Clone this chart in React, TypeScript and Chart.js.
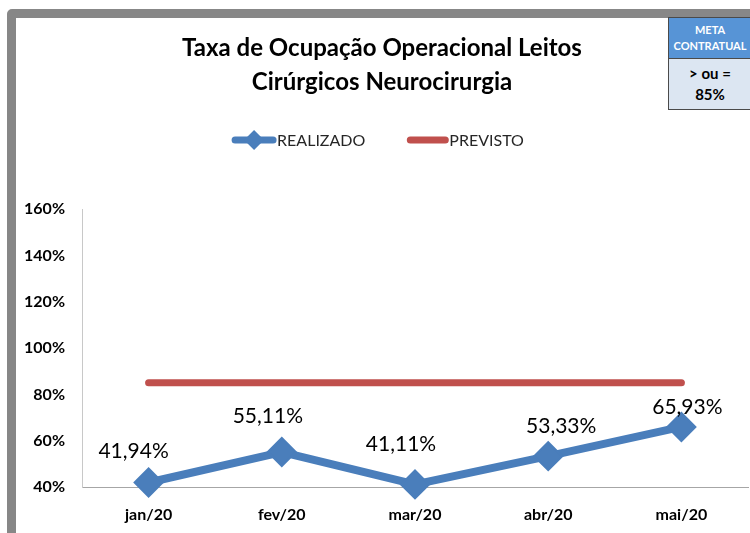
import React, { useEffect, useRef } from "react";
import { Chart, registerables } from "chart.js";

Chart.register(...registerables);

const categories = ["jan/20", "fev/20", "mar/20", "abr/20", "mai/20"];
const realizado = [41.94, 55.11, 41.11, 53.33, 65.93];
const previsto = [85, 85, 85, 85, 85];
const seriesNames = ["REALIZADO", "PREVISTO"];
const yMin = 40;
const yMax = 160;
const yStep = 20;
const titleLines = ["Taxa de Ocupação Operacional Leitos", "Cirúrgicos Neurocirurgia"];
const metaHeader = ["META", "CONTRATUAL"];
const metaValue = ["> ou =", "85%"];

// label nudges relative to each point (placement style, not data)
const labelNudgeX = [-15, -14, -14, 13, 6];
const labelNudgeY = [-31, -36, -40, -30, -20];

const BLUE = "#4a7ebb";
const RED = "#c0504d";
const FONT = "Lato, 'Open Sans', sans-serif";

const fmt = (v: number) => v.toFixed(2).replace(".", ",") + "%";

const dataLabelsPlugin = {
  id: "dataLabels",
  afterDatasetsDraw(chart: any) {
    const ctx = chart.ctx;
    const meta = chart.getDatasetMeta(0);
    const ds = chart.data.datasets[0];
    ctx.save();
    ctx.font = `21px ${FONT}`;
    ctx.fillStyle = "#000";
    ctx.textAlign = "center";
    ctx.textBaseline = "middle";
    meta.data.forEach((pt: any, i: number) => {
      ctx.fillText(fmt(ds.data[i]), pt.x + labelNudgeX[i], pt.y + labelNudgeY[i]);
    });
    ctx.restore();
  },
};

const customLegendPlugin = {
  id: "customLegend",
  afterDraw(chart: any) {
    const ctx = chart.ctx;
    const y = 140;
    ctx.save();
    ctx.font = `16px ${FONT}`;
    const w0 = ctx.measureText(chart.data.datasets[0].label).width;
    const w1 = ctx.measureText(chart.data.datasets[1].label).width;
    const icon0 = 44;
    const icon1 = 41;
    const gapText = 1;
    const gapItem = 42;
    const total = icon0 + gapText + w0 + gapItem + icon1 + gapText + w1;
    let x = chart.width / 2 + 3 - total / 2;

    ctx.strokeStyle = BLUE;
    ctx.lineWidth = 7;
    ctx.lineCap = "round";
    ctx.beginPath();
    ctx.moveTo(x + 3, y);
    ctx.lineTo(x + icon0 - 3, y);
    ctx.stroke();
    ctx.fillStyle = BLUE;
    const cx = x + icon0 / 2;
    const r = 10;
    ctx.beginPath();
    ctx.moveTo(cx - r, y);
    ctx.lineTo(cx, y - r);
    ctx.lineTo(cx + r, y);
    ctx.lineTo(cx, y + r);
    ctx.closePath();
    ctx.fill();
    x += icon0 + gapText;
    ctx.fillStyle = "#262626";
    ctx.textAlign = "left";
    ctx.textBaseline = "middle";
    ctx.fillText(chart.data.datasets[0].label, x, y + 1);
    x += w0 + gapItem;

    ctx.strokeStyle = RED;
    ctx.beginPath();
    ctx.moveTo(x + 3, y);
    ctx.lineTo(x + icon1 - 3, y);
    ctx.stroke();
    x += icon1 + gapText;
    ctx.fillStyle = "#262626";
    ctx.fillText(chart.data.datasets[1].label, x, y + 1);
    ctx.restore();
  },
};

export default function App() {
  const canvasRef = useRef<HTMLCanvasElement | null>(null);

  useEffect(() => {
    const canvas = canvasRef.current;
    if (!canvas) return;
    const chart = new Chart(canvas, {
      type: "line",
      data: {
        labels: categories,
        datasets: [
          {
            label: seriesNames[0],
            data: realizado,
            borderColor: BLUE,
            backgroundColor: BLUE,
            borderWidth: 8,
            pointStyle: "rectRot",
            pointRadius: 14,
            pointBorderWidth: 2,
            pointBackgroundColor: BLUE,
            pointBorderColor: BLUE,
            tension: 0,
            fill: false,
            clip: false,
            order: 0,
          },
          {
            label: seriesNames[1],
            data: previsto,
            borderColor: RED,
            backgroundColor: RED,
            borderWidth: 7,
            borderCapStyle: "round",
            pointRadius: 0,
            tension: 0,
            fill: false,
            clip: false,
            order: 1,
          },
        ],
      },
      options: {
        responsive: false,
        animation: false,
        layout: { autoPadding: false, padding: { left: 16, right: 2, top: 0, bottom: 0 } },
        plugins: {
          legend: { display: false },
          tooltip: { enabled: false },
          title: {
            display: true,
            text: titleLines,
            color: "#000",
            font: { family: FONT, size: 24, weight: "bold", lineHeight: 1.42 },
            padding: { top: 31, bottom: 110 },
          },
        },
        scales: {
          x: {
            offset: true,
            grid: { display: false, drawTicks: false },
            border: { display: true, color: "#a6a6a6", width: 1 },
            ticks: {
              color: "#000",
              font: { family: FONT, size: 16, weight: "bold" },
              padding: 18,
            },
            afterFit: (scale: any) => {
              scale.height = 46;
            },
          },
          y: {
            min: yMin,
            max: yMax,
            grid: { display: false, drawTicks: false },
            border: { display: true, color: "#c8c8c8", width: 1 },
            ticks: {
              stepSize: yStep,
              color: "#000",
              font: { family: FONT, size: 16, weight: "bold" },
              padding: 17,
              callback: (v: any) => `${v}%`,
            },
            afterFit: (scale: any) => {
              scale.width = 66;
            },
          },
        },
      },
      plugins: [dataLabelsPlugin, customLegendPlugin],
    });
    return () => chart.destroy();
  }, []);

  return (
    <div
      style={{
        position: "absolute",
        left: 0,
        top: 0,
        width: 750,
        height: 533,
        overflow: "hidden",
        background: "#fff",
      }}
    >
      <div
        style={{
          position: "absolute",
          left: 7,
          top: 9,
          width: 780,
          height: 560,
          border: "9px solid #878787",
          borderTopLeftRadius: 5,
          boxSizing: "border-box",
        }}
      />
      <canvas
        ref={canvasRef}
        width={750}
        height={533}
        style={{ position: "absolute", left: 0, top: 0, width: 750, height: 533 }}
      />
      <div
        style={{
          position: "absolute",
          left: 668,
          top: 17,
          width: 84,
          border: "1px solid #4a4a4a",
          fontFamily: FONT,
          fontWeight: "bold",
          textAlign: "center",
          boxSizing: "border-box",
        }}
      >
        <div
          style={{
            background: "#5794d6",
            color: "#fff",
            fontSize: 11,
            lineHeight: "16px",
            height: 41,
            paddingTop: 4,
            boxSizing: "border-box",
            borderBottom: "1px solid #4a4a4a",
          }}
        >
          {metaHeader.map((t) => (
            <div key={t}>{t}</div>
          ))}
        </div>
        <div
          style={{
            background: "#dce6f2",
            color: "#000",
            fontSize: 15,
            lineHeight: "21px",
            height: 50,
            paddingTop: 4,
            boxSizing: "border-box",
          }}
        >
          {metaValue.map((t) => (
            <div key={t}>{t}</div>
          ))}
        </div>
      </div>
    </div>
  );
}
